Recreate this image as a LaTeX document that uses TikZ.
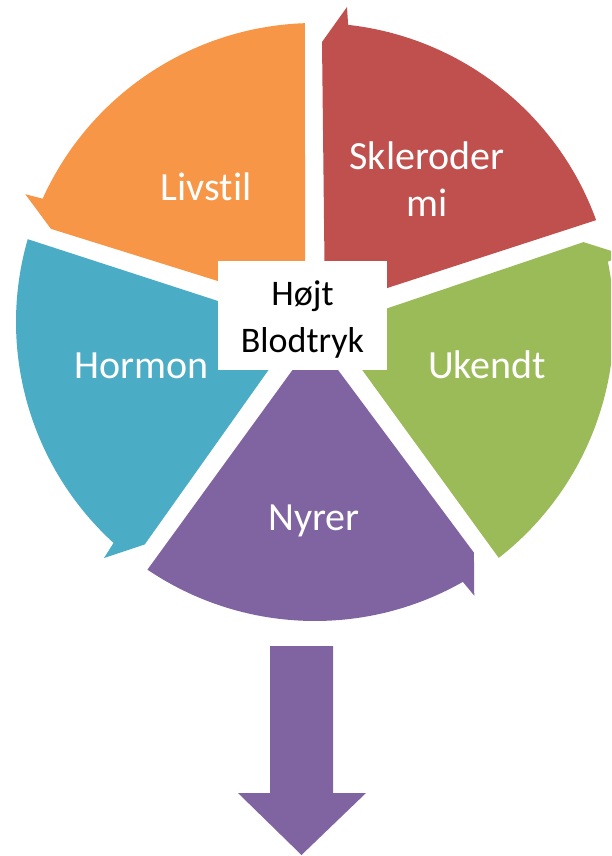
\documentclass[tikz,border=0pt]{standalone}
\usepackage{fontspec}
\setmainfont{Carlito}[Ligatures=NoCommon]
\definecolor{segorange}{HTML}{F79646}
\definecolor{segred}{HTML}{C0504D}
\definecolor{seggreen}{HTML}{9BBB59}
\definecolor{segpurple}{HTML}{8064A2}
\definecolor{segblue}{HTML}{4BACC6}
\begin{document}
\begin{tikzpicture}[x=1pt,y=1pt,
  seglabel/.style={text=white, font=\fontsize{40}{47}\selectfont, inner sep=0pt, anchor=base},
  hublabel/.style={text=black, font=\fontsize{36}{47}\selectfont, inner sep=0pt, anchor=base}]
\useasboundingbox (0,0) rectangle (611,-856);
\clip (0,0) rectangle (611,-856);
\coordinate (hubc) at (315,-322);
% five pie segments; each has a barb at its counterclockwise end
\foreach \ang/\col in {162/segorange, 90/segred, 18/seggreen, -54/segpurple, 234/segblue}{
  \fill[\col, shift={(hubc)}, rotate=\ang]
    (13.76,-10) -- (280,-7) -- (315,-32) -- (-6.36:299)
    arc[start angle=-6.36, end angle=-70.08, radius=299] -- cycle;
}
% segment labels
\node[seglabel] (livstil) at (206,-200) {Livstil};
\node[seglabel] (skleroder) at (427,-169) {\begin{tabular}[t]{@{}c@{}}Skleroder\\mi\end{tabular}};
\node[seglabel] (ukendt) at (487,-378) {Ukendt};
\node[seglabel] (hormon) at (142,-378) {Hormon};
\node[seglabel] (nyrer) at (314,-530) {Nyrer};
% central box
\node[fill=white, minimum width=169pt, minimum height=109pt, inner sep=0pt] (hub) at (302.5,-315.5) {};
\node[hublabel] (hubtext) at (302.5,-305) {\begin{tabular}[t]{@{}c@{}}Højt\\Blodtryk\end{tabular}};
% downward block arrow
\fill[segpurple] (270,-646) -- (333,-646) -- (333,-793) -- (366,-793)
  -- (301.5,-855) -- (238,-793) -- (270,-793) -- cycle;
\end{tikzpicture}
\end{document}
